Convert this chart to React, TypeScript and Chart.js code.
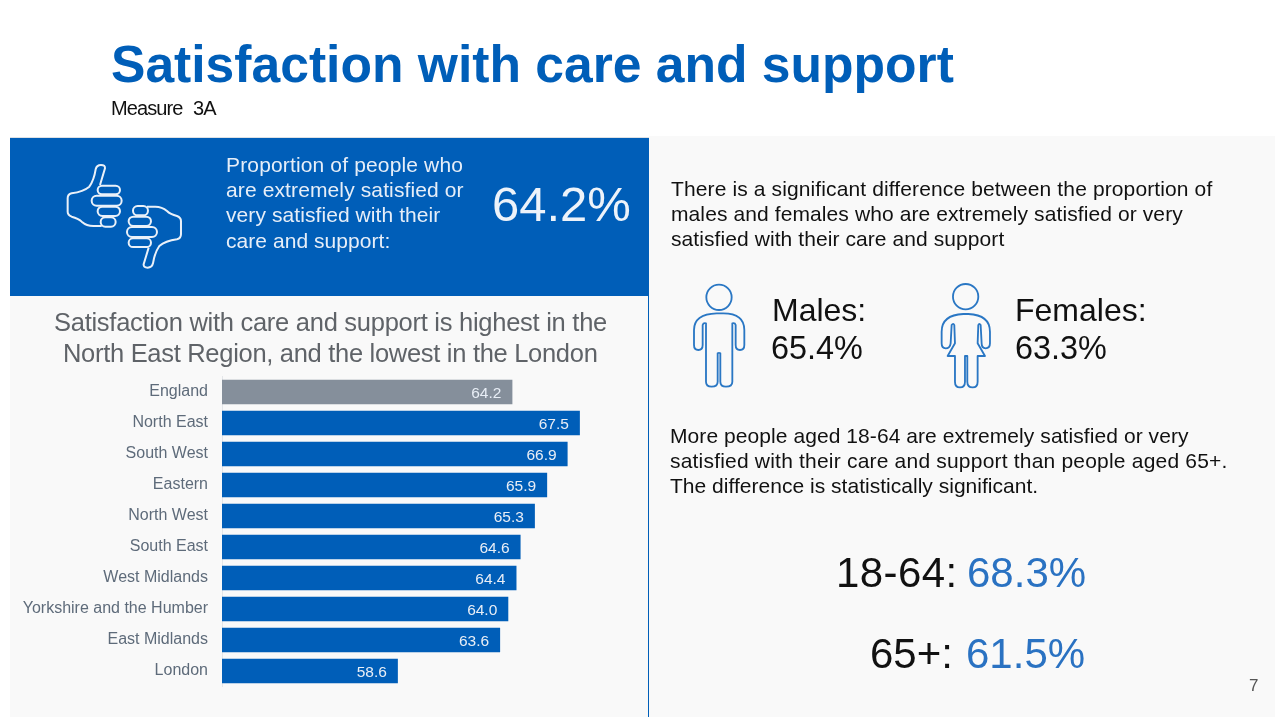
import React, { useEffect, useRef } from "react";
import { Chart, registerables } from "chart.js";

Chart.register(...registerables);

const regions = ["England", "North East", "South West", "Eastern", "North West", "South East", "West Midlands", "Yorkshire and the Humber", "East Midlands", "London"];
const satisfaction = [64.2, 67.5, 66.9, 65.9, 65.3, 64.6, 64.4, 64.0, 63.6, 58.6];
const barColours = ["#858F9B", "#005EB8", "#005EB8", "#005EB8", "#005EB8", "#005EB8", "#005EB8", "#005EB8", "#005EB8", "#005EB8"];

const FONT = '"Liberation Sans", Arial, sans-serif';
const BLUE = "#005EB8";

type Line = [string, number, number, number, string, number?, string?];
// text, left, vertical centre, size, colour, letter spacing, weight
const lines: Line[] = [
  ["Satisfaction with care and support", 111, 64.5, 51.6, BLUE, 0, "700"],
  ["Measure", 111, 108, 20, "#111", -0.9],
  ["3A", 193, 108, 20, "#111", -0.9],
  ["Proportion of people who", 226, 165, 21, "#E6EEF8", 0.15],
  ["are extremely satisfied or", 226, 190, 21, "#E6EEF8", 0.12],
  ["very satisfied with their", 226, 215, 21, "#E6EEF8", 0.08],
  ["care and support:", 226, 241, 21, "#E6EEF8", 0.05],
  ["64.2%", 492, 204, 49, "#EDF3FA"],
  ["Satisfaction with care and support is highest in the", 54, 322, 25.5, "#5F6368", -0.27],
  ["North East Region, and the lowest in the London", 63, 353, 25.5, "#5F6368", -0.3],
  ["There is a significant difference between the proportion of", 671, 189, 21, "#111", 0.12],
  ["males and females who are extremely satisfied or very", 671, 214, 21, "#111", 0.1],
  ["satisfied with their care and support", 671, 239, 21, "#111", 0.08],
  ["Males:", 772, 310, 32, "#111"],
  ["65.4%", 771, 348, 32.4, "#111"],
  ["Females:", 1015, 310, 32, "#111"],
  ["63.3%", 1015, 348, 32.4, "#111"],
  ["More people aged 18-64 are extremely satisfied or very", 670, 436, 21, "#111", 0.07],
  ["satisfied with their care and support than people aged 65+.", 670, 461, 21, "#111", 0.2],
  ["The difference is statistically significant.", 670, 486, 21, "#111", 0.02],
  ["18-64:", 836, 573, 42, "#111", 0.4],
  ["68.3%", 967, 573, 42, "#2A72C2"],
  ["65+:", 870, 654, 42, "#111"],
  ["61.5%", 966, 654, 42, "#2A72C2"],
  ["7", 1249, 686, 17, "#555"],
];

// Data labels sit inside the end of each bar.
const valueLabels = {
  id: "valueLabels",
  afterDatasetsDraw(chart: Chart) {
    const { ctx } = chart;
    const meta = chart.getDatasetMeta(0);
    ctx.save();
    ctx.font = `15.5px ${FONT}`;
    ctx.fillStyle = "#E8EEF6";
    ctx.textAlign = "right";
    ctx.textBaseline = "middle";
    meta.data.forEach((bar, i) => {
      ctx.fillText(satisfaction[i].toFixed(1), bar.x - 11, bar.y + 1.5);
    });
    ctx.restore();
  },
};

function HandIcon() {
  const hand =
    "M300 165 L315 115 Q316 105 303 105 Q290 105 287 118 Q282 150 268 170 Q250 185 215 190 Q203 193 203 205 L203 245 Q203 255 215 260 Q235 265 245 275 Q260 288 280 288 L305 288";
  const fingers = (
    <>
      <rect x={293} y={167} width={67} height={26} rx={13} />
      <rect x={275} y={197} width={90} height={30} rx={15} />
      <rect x={293} y={230} width={67} height={28} rx={14} />
      <rect x={302} y={262} width={45} height={28} rx={14} />
    </>
  );
  return (
    <g transform="translate(0 130) scale(0.3333)" fill="none" stroke="#EAF1F9" strokeWidth={6}>
      <path d={hand} />
      {fingers}
      <g transform="rotate(180 373 259)">
        <path d={hand} />
        {fingers}
      </g>
    </g>
  );
}

function PeopleIcons() {
  return (
    <g transform="translate(680 275) scale(0.3333)" fill="none" stroke="#2A77C4" strokeWidth={5.5} strokeLinejoin="round">
      <circle cx={117} cy={67} r={38} />
      <path d="M110 115 Q42 117 42 165 L42 210 Q42 225 55 225 Q68 225 68 210 L68 150 Q70 143 78 145 L78 320 Q78 335 95 335 Q113 335 113 320 L113 235 Q117 232 121 235 L121 320 Q121 335 138 335 Q157 335 157 320 L157 145 Q165 143 167 150 L167 210 Q167 225 180 225 Q193 225 193 210 L193 165 Q193 115 130 115 Z" />
      <circle cx={857} cy={65} r={38} />
      <path d="M850 117 Q785 120 785 170 L785 205 Q785 220 797 220 Q810 220 812 205 L815 150 Q820 143 823 150 L825 205 L803 243 L825 243 L825 320 Q825 337 840 337 Q855 337 855 320 L855 243 L862 243 L862 320 Q862 337 878 337 Q893 337 893 320 L893 243 L915 243 L893 205 L895 150 Q898 143 902 150 L905 205 Q905 220 917 220 Q930 220 930 205 L930 170 Q930 120 865 117 Z" />
    </g>
  );
}

export default function App() {
  const canvasRef = useRef<HTMLCanvasElement>(null);

  useEffect(() => {
    document.body.style.margin = "0";
    const chart = new Chart(canvasRef.current!, {
      type: "bar",
      data: {
        labels: regions,
        datasets: [{ data: satisfaction, backgroundColor: barColours, barPercentage: 0.79, categoryPercentage: 1 }],
      },
      options: {
        indexAxis: "y",
        animation: false,
        responsive: false,
        layout: { padding: { top: 13, bottom: 13.5, left: 0, right: 17 } },
        plugins: { legend: { display: false }, tooltip: { enabled: false } },
        scales: {
          x: { min: 50, max: 70, display: false },
          y: {
            afterFit(axis: any) {
              axis.width = 212;
            },
            border: { color: "#E4E6E9", width: 1 },
            grid: { display: false, drawTicks: false },
            ticks: { color: "#5E6B7A", padding: 14, font: { family: FONT, size: 16 }, autoSkip: false },
          },
        },
      },
      plugins: [valueLabels],
    });
    return () => chart.destroy();
  }, []);

  return (
    <div style={{ position: "relative", width: 1275, height: 717, overflow: "hidden", background: "#fff", fontFamily: FONT }}>
      <div style={{ position: "absolute", left: 649, top: 136, width: 626, height: 581, background: "#F9F9F9" }} />
      <div style={{ position: "absolute", left: 10, top: 296, width: 638, height: 421, background: "#F9F9F9" }} />
      <div style={{ position: "absolute", left: 10, top: 137, width: 639, height: 1, background: "#DDE1E5" }} />
      <div style={{ position: "absolute", left: 10, top: 138, width: 638, height: 158, background: BLUE }} />
      <div style={{ position: "absolute", left: 648, top: 138, width: 1, height: 579, background: BLUE }} />
      <canvas ref={canvasRef} width={638} height={357} style={{ position: "absolute", left: 10, top: 353, width: 638, height: 357 }} />
      <svg width={1275} height={717} style={{ position: "absolute", left: 0, top: 0 }}>
        <HandIcon />
        <PeopleIcons />
      </svg>
      {lines.map(([text, x, y, size, colour, spacing, weight], i) => (
        <div
          key={i}
          style={{
            position: "absolute",
            left: x,
            top: y - size,
            height: size * 2,
            lineHeight: `${size * 2}px`,
            fontSize: size,
            color: colour,
            letterSpacing: spacing ?? 0,
            fontWeight: weight ?? "400",
            whiteSpace: "nowrap",
          }}
        >
          {text}
        </div>
      ))}
    </div>
  );
}
